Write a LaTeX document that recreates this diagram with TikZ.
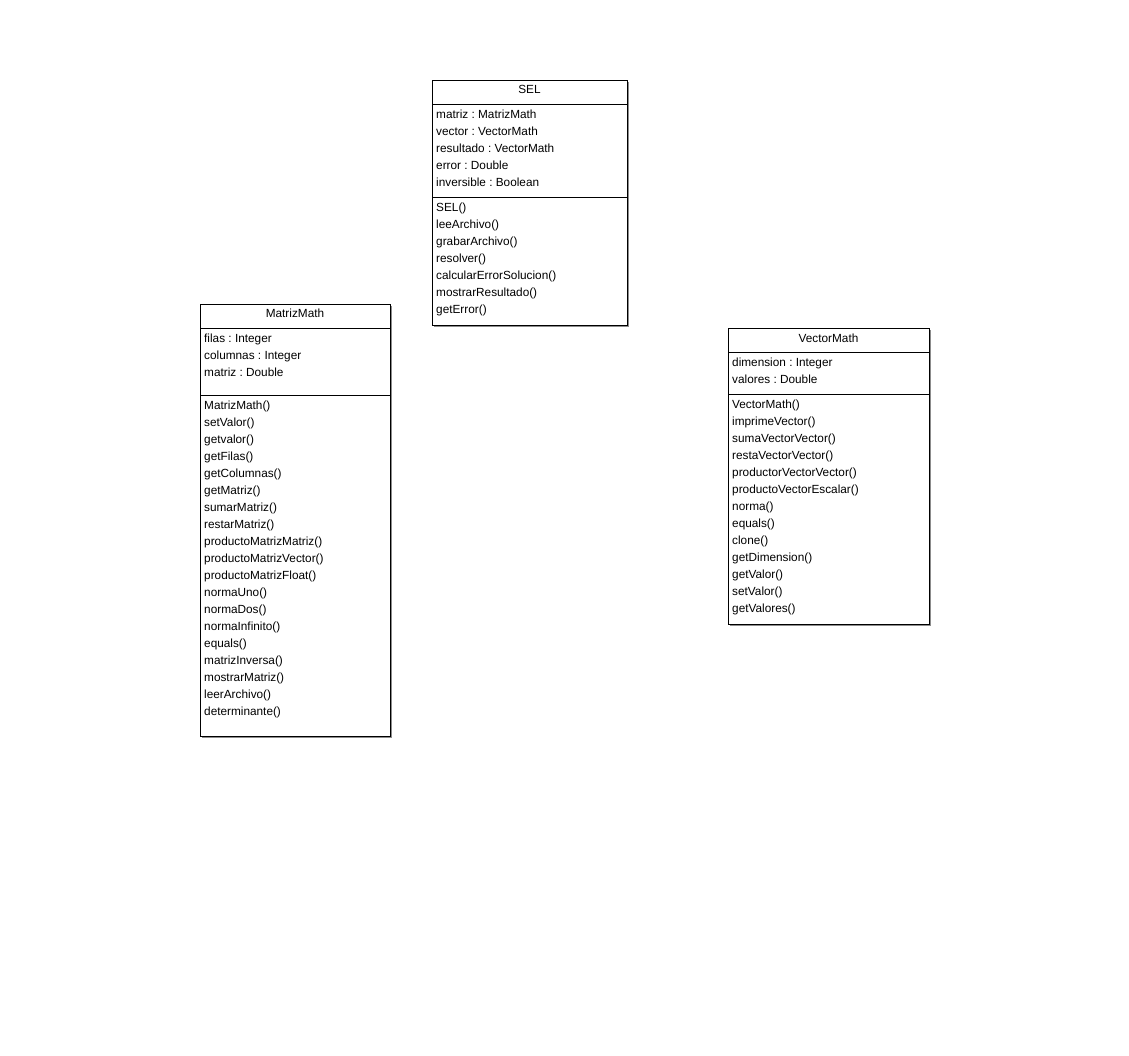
\documentclass[tikz,border=0pt]{standalone}
\usepackage{fontspec}
\setmainfont{Liberation Sans}
\usetikzlibrary{shadows}
\frenchspacing
\begin{document}
\begin{tikzpicture}[x=1pt,y=-1pt,
  classbox/.style={draw=black,line width=0.8pt,fill=white,anchor=north west,inner sep=0pt,
    general shadow={shadow xshift=1.5pt,shadow yshift=-1.5pt,fill=black!45}},
  txt/.style={anchor=base west,inner sep=0pt,font=\fontsize{11.8}{13}\selectfont},
  ttl/.style={anchor=base,inner sep=0pt,font=\fontsize{11.8}{13}\selectfont},
  sep/.style={line width=0.8pt}]
\useasboundingbox[fill=white] (0,0) rectangle (1129,1056);
% SEL
\node[classbox,minimum width=195pt,minimum height=245pt] (sel) at (432,80) {};
\node[ttl] (sel-t) at (529.5,94) {SEL};
\draw[sep] (sel.west |- 0,104) -- (sel.east |- 0,104);
\draw[sep] (sel.west |- 0,197) -- (sel.east |- 0,197);
\foreach \s [count=\i] in {matriz : MatrizMath,vector : VectorMath,resultado : VectorMath,error : Double,inversible : Boolean}
  \node[txt] (sel-a\i) at (436,{114+17*(\i-1)+4.5}) {\s};
\foreach \s [count=\i] in {SEL(),leeArchivo(),grabarArchivo(),resolver(),calcularErrorSolucion(),mostrarResultado(),getError()}
  \node[txt] (sel-m\i) at (436,{207+17*(\i-1)+4.5}) {\s};
% MatrizMath
\node[classbox,minimum width=190pt,minimum height=432pt] (mat) at (200,304) {};
\node[ttl] (mat-t) at (295,318) {MatrizMath};
\draw[sep] (mat.west |- 0,328) -- (mat.east |- 0,328);
\draw[sep] (mat.west |- 0,395) -- (mat.east |- 0,395);
\foreach \s [count=\i] in {filas : Integer,columnas : Integer,matriz : Double}
  \node[txt] (mat-a\i) at (204,{338+17*(\i-1)+4.5}) {\s};
\foreach \s [count=\i] in {MatrizMath(),setValor(),getvalor(),getFilas(),getColumnas(),getMatriz(),sumarMatriz(),restarMatriz(),productoMatrizMatriz(),productoMatrizVector(),productoMatrizFloat(),normaUno(),normaDos(),normaInfinito(),equals(),matrizInversa(),mostrarMatriz(),leerArchivo(),determinante()}
  \node[txt] (mat-m\i) at (204,{405+17*(\i-1)+4.5}) {\s};
% VectorMath
\node[classbox,minimum width=201pt,minimum height=296pt] (vec) at (728,328) {};
\node[ttl] (vec-t) at (828.5,342) {VectorMath};
\draw[sep] (vec.west |- 0,352) -- (vec.east |- 0,352);
\draw[sep] (vec.west |- 0,394) -- (vec.east |- 0,394);
\foreach \s [count=\i] in {dimension : Integer,valores : Double}
  \node[txt] (vec-a\i) at (732,{362+17*(\i-1)+4.5}) {\s};
\foreach \s [count=\i] in {VectorMath(),imprimeVector(),sumaVectorVector(),restaVectorVector(),productorVectorVector(),productoVectorEscalar(),norma(),equals(),clone(),getDimension(),getValor(),setValor(),getValores()}
  \node[txt] (vec-m\i) at (732,{404+17*(\i-1)+4.5}) {\s};
\end{tikzpicture}
\end{document}
